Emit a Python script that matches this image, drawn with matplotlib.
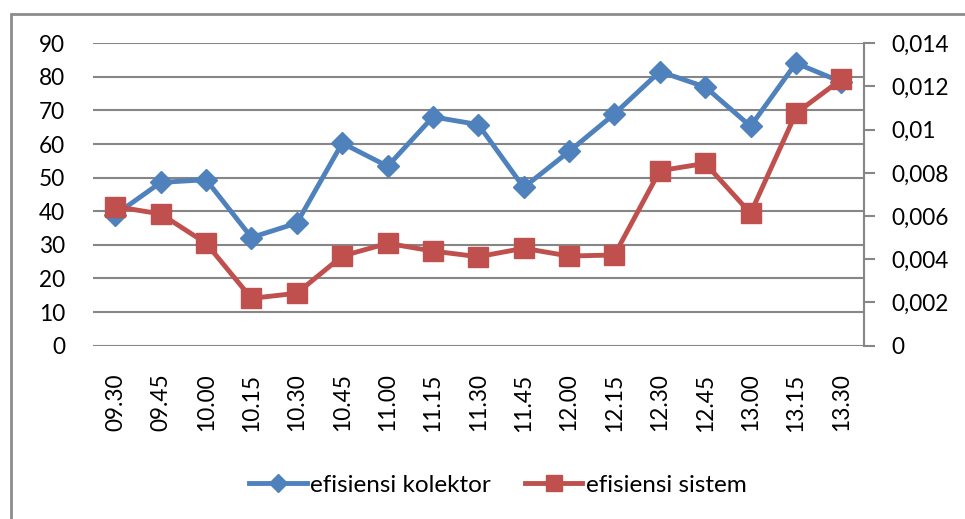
import matplotlib
matplotlib.use("Agg")
import matplotlib.pyplot as plt
from matplotlib.patches import Rectangle

plt.rcParams['font.family'] = ['Lato', 'DejaVu Sans']

times = ["09.30", "09.45", "10.00", "10.15", "10.30", "10.45", "11.00", "11.15",
         "11.30", "11.45", "12.00", "12.15", "12.30", "12.45", "13.00", "13.15", "13.30"]
efisiensi_kolektor = [39.0, 48.6, 49.4, 32.2, 36.5, 60.3, 53.4, 68.1, 65.8,
                      47.1, 57.8, 69.0, 81.6, 77.0, 65.3, 84.1, 78.5]
efisiensi_sistem = [0.00644, 0.0061, 0.00474, 0.00219, 0.00243, 0.00415, 0.00474, 0.00438,
                    0.00412, 0.00451, 0.00415, 0.0042, 0.0081, 0.00844, 0.00613, 0.01076, 0.01233]
left_ticks = [0, 10, 20, 30, 40, 50, 60, 70, 80, 90]
right_ticks = [0, 0.002, 0.004, 0.006, 0.008, 0.01, 0.012, 0.014]
right_labels = ["0", "0,002", "0,004", "0,006", "0,008", "0,01", "0,012", "0,014"]

blue = "#4F81BD"
red = "#C0504D"
grid = "#868686"
fs = 16.3

W, H = 965, 519
fig = plt.figure(figsize=(W / 100, H / 100), dpi=100)
ax = fig.add_axes([92.7 / W, 1 - 345.7 / H, (864 - 92.7) / W, (345.7 - 43.3) / H])
ax2 = ax.twinx()

x = list(range(len(times)))
l1, = ax.plot(x, efisiensi_kolektor, color=blue, lw=3.5, marker='D', ms=11,
              label="efisiensi kolektor", zorder=3)
l2, = ax2.plot(x, efisiensi_sistem, color=red, lw=3.5, marker='s', ms=14,
               label="efisiensi sistem", zorder=3)

ax.set_xlim(-0.5, len(times) - 0.5)
ax.set_ylim(0, 90)
ax2.set_ylim(0, 0.014)
ax.set_yticks(left_ticks)
ax.set_yticklabels([str(t) for t in left_ticks], fontsize=fs)
ax2.set_yticks(right_ticks)
ax2.set_yticklabels(right_labels, fontsize=fs)
ax.set_xticks(x)
ax.set_xticklabels(times, rotation=90, fontsize=fs)

for t in left_ticks:
    ax.axhline(t, color=grid, lw=1.5, zorder=1)

for s in ['top', 'left', 'bottom', 'right']:
    ax.spines[s].set_visible(False)
for s in ['top', 'left', 'bottom']:
    ax2.spines[s].set_visible(False)
ax2.spines['right'].set_color(grid)
ax2.spines['right'].set_linewidth(1.5)

ax.tick_params(axis='y', length=0, pad=20)
ax.tick_params(axis='x', length=0, pad=20)
ax2.tick_params(axis='y', length=8, width=1.5, color=grid, direction='out', pad=12)

fig.legend(handles=[l1, l2], loc='center', bbox_to_anchor=(498 / W, 1 - 485 / H),
           ncol=2, frameon=False, fontsize=17.5, handlelength=2.35, handletextpad=0.15,
           columnspacing=1.4, markerscale=0.85)

fig.patches.append(Rectangle((11 / W, -0.1), 1.2, 1 - 14 / H + 0.1, transform=fig.transFigure,
                             fill=False, edgecolor="#8C8C8C", lw=2))

fig.savefig("out.png", dpi=100)
